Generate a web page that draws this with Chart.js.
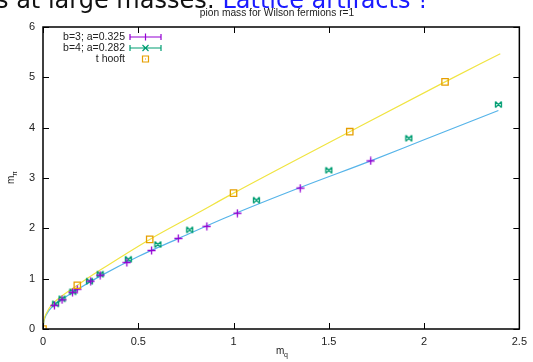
<!DOCTYPE html>
<html>
<head>
  <meta charset="UTF-8">
  <title>pion mass</title>
  <script src="https://cdn.jsdelivr.net/npm/chart.js"></script>
  <style>
    html, body { margin: 0; padding: 0; background: #fff; }
    #wrap { position: relative; width: 533px; height: 362px; }
  </style>
</head>
<body>
  <div id="wrap"><canvas id="pion" width="533" height="362"></canvas></div>

  <script>
    // b=3; a=0.325  (m_q, m_pi)
    const b3X = [0.06, 0.10, 0.155, 0.18, 0.25, 0.30, 0.44, 0.57, 0.71, 0.86, 1.02, 1.35, 1.72];
    const b3Y = [0.47, 0.58, 0.73, 0.79, 0.95, 1.07, 1.32, 1.56, 1.80, 2.04, 2.30, 2.80, 3.34];
    // b=4; a=0.282
    const b4X = [0.066, 0.10, 0.157, 0.244, 0.30, 0.448, 0.603, 0.77, 1.12, 1.50, 1.92, 2.39];
    const b4Y = [0.50, 0.60, 0.74, 0.95, 1.09, 1.385, 1.68, 1.97, 2.56, 3.155, 3.79, 4.46];
    // t hooft points
    const thX = [0, 0.18, 0.56, 1.00, 1.61, 2.11];
    const thY = [0, 0.87, 1.78, 2.70, 3.92, 4.91];
    // t hooft curve (yellow)
    const yellowX = [0, 0.005, 0.02, 0.05, 0.10, 0.18, 0.30, 0.56, 0.80, 1.00, 1.61, 2.11, 2.40];
    const yellowY = [0, 0.17, 0.33, 0.50, 0.66, 0.87, 1.17, 1.78, 2.28, 2.70, 3.92, 4.91, 5.47];
    // fit curve (blue)
    const blueX = [0, 0.005, 0.02, 0.05, 0.10, 0.20, 0.30, 0.50, 0.70, 1.00, 1.35, 1.72, 2.00, 2.39];
    const blueY = [0, 0.15, 0.30, 0.45, 0.59, 0.83, 1.05, 1.44, 1.78, 2.28, 2.81, 3.34, 3.76, 4.34];

    const xTicks = [0, 0.5, 1, 1.5, 2, 2.5];
    const yTicks = [0, 1, 2, 3, 4, 5, 6];

    function pts(xs, ys) {
      return xs.map((x, i) => ({ x: x, y: ys[i] }));
    }

    const FONT = '"Liberation Sans", Arial, sans-serif';

    // small marker images: x with tiny errorbar caps, + with caps
    function marker(color, kind) {
      const c = document.createElement('canvas');
      c.width = 9; c.height = 9;
      const g = c.getContext('2d');
      g.strokeStyle = color;
      g.lineWidth = 1.3;
      g.beginPath();
      if (kind === 'x') {
        g.moveTo(1.5, 1.5); g.lineTo(7.5, 7.5);
        g.moveTo(1.5, 7.5); g.lineTo(7.5, 1.5);
        g.moveTo(1.5, 1.5); g.lineTo(1.5, 7.5);
        g.moveTo(7.5, 1.5); g.lineTo(7.5, 7.5);
      } else {
        g.moveTo(4.5, 0.5); g.lineTo(4.5, 8.5);
        g.moveTo(0.5, 4.5); g.lineTo(8.5, 4.5);
      }
      g.stroke();
      return c;
    }

    // frame, inward ticks, legend, titles and slide heading
    const decor = {
      id: 'decor',
      afterDraw(chart) {
        const ctx = chart.ctx;
        const a = chart.chartArea;
        const xs = chart.scales.x, ys = chart.scales.y;
        ctx.save();

        // frame
        ctx.strokeStyle = '#000';
        ctx.lineWidth = 1.5;
        ctx.strokeRect(a.left, a.top, a.right - a.left, a.bottom - a.top);

        // inward ticks, mirrored
        ctx.lineWidth = 1;
        ctx.beginPath();
        xTicks.forEach(v => {
          const px = Math.round(xs.getPixelForValue(v)) + 0.5;
          ctx.moveTo(px, a.bottom); ctx.lineTo(px, a.bottom - 6);
          ctx.moveTo(px, a.top); ctx.lineTo(px, a.top + 6);
        });
        yTicks.forEach(v => {
          const py = Math.round(ys.getPixelForValue(v)) + 0.5;
          ctx.moveTo(a.left, py); ctx.lineTo(a.left + 6, py);
          ctx.moveTo(a.right, py); ctx.lineTo(a.right - 6, py);
        });
        ctx.stroke();

        // title
        ctx.fillStyle = '#222';
        ctx.font = '10.2px ' + FONT;
        ctx.textAlign = 'center';
        ctx.textBaseline = 'middle';
        ctx.fillText('pion mass for Wilson fermions r=1', 277, 13);

        // x axis label m_q
        ctx.font = '10px ' + FONT;
        ctx.textAlign = 'left';
        ctx.textBaseline = 'alphabetic';
        ctx.fillText('m', 276, 354);
        ctx.font = '7px ' + FONT;
        ctx.fillText('q', 284, 357);

        // y axis label m_pi
        ctx.save();
        ctx.translate(14, 184);
        ctx.rotate(-Math.PI / 2);
        ctx.font = '10px ' + FONT;
        ctx.fillText('m', 0, 0);
        ctx.font = '7px ' + FONT;
        ctx.fillText('\u03c0', 8, 3);
        ctx.restore();

        // legend
        const ds = chart.data.datasets;
        const rows = [
          { label: ds[0].label, color: ds[0].borderColor, kind: 'bar', y: 37 },
          { label: ds[1].label, color: ds[1].borderColor, kind: 'bar', y: 48 },
          { label: ds[2].label, color: ds[2].borderColor, kind: 'sq', y: 59 }
        ];
        ctx.font = '10.5px ' + FONT;
        ctx.textAlign = 'right';
        ctx.textBaseline = 'middle';
        rows.forEach((r, i) => {
          ctx.fillStyle = '#222';
          ctx.fillText(r.label, 125, r.y);
          ctx.strokeStyle = r.color;
          ctx.lineWidth = 1.2;
          ctx.beginPath();
          if (r.kind === 'bar') {
            ctx.moveTo(130, r.y); ctx.lineTo(161, r.y);
            ctx.moveTo(130, r.y - 3); ctx.lineTo(130, r.y + 3);
            ctx.moveTo(161, r.y - 3); ctx.lineTo(161, r.y + 3);
            if (i === 0) {
              ctx.moveTo(145.5, r.y - 3.5); ctx.lineTo(145.5, r.y + 3.5);
            } else {
              ctx.moveTo(142.5, r.y - 3); ctx.lineTo(148.5, r.y + 3);
              ctx.moveTo(142.5, r.y + 3); ctx.lineTo(148.5, r.y - 3);
            }
          } else {
            ctx.rect(142.5, r.y - 3, 6, 6);
            ctx.moveTo(145, r.y); ctx.lineTo(146, r.y);
          }
          ctx.stroke();
        });

        // slide heading, cut by the top edge
        ctx.font = '24px "DejaVu Sans", sans-serif';
        ctx.textAlign = 'left';
        ctx.textBaseline = 'alphabetic';
        const black = 's at large masses: ';
        ctx.fillStyle = '#111';
        ctx.fillText(black, -4, 8);
        const w = ctx.measureText(black).width;
        ctx.fillStyle = '#1a1aff';
        ctx.fillText('Lattice artifacts !', -4 + w, 8);

        ctx.restore();
      }
    };

    const ctx = document.getElementById('pion').getContext('2d');
    new Chart(ctx, {
      type: 'scatter',
      data: {
        datasets: [
          {
            label: 'b=3; a=0.325',
            data: pts(b3X, b3Y),
            borderColor: '#9400d3',
            backgroundColor: '#9400d3',
            pointStyle: marker('#9400d3', '+'),
            order: 1
          },
          {
            label: 'b=4; a=0.282',
            data: pts(b4X, b4Y),
            borderColor: '#009e73',
            backgroundColor: '#009e73',
            pointStyle: marker('#009e73', 'x'),
            order: 1
          },
          {
            label: 't hooft',
            data: pts(thX, thY),
            borderColor: '#e69f00',
            backgroundColor: 'rgba(0,0,0,0)',
            pointStyle: 'rect',
            pointRadius: 4.5,
            borderWidth: 1.3,
            order: 0
          },
          {
            label: 'thooft curve',
            data: pts(yellowX, yellowY),
            showLine: true,
            borderColor: '#f0e442',
            borderWidth: 1.2,
            pointRadius: 0,
            cubicInterpolationMode: 'monotone',
            order: 2
          },
          {
            label: 'fit',
            data: pts(blueX, blueY),
            showLine: true,
            borderColor: '#56b4e9',
            borderWidth: 1.2,
            pointRadius: 0,
            cubicInterpolationMode: 'monotone',
            order: 2
          }
        ]
      },
      options: {
        responsive: false,
        animation: false,
        layout: { padding: { top: 27, right: 8, left: 0, bottom: 0 } },
        plugins: {
          legend: { display: false },
          tooltip: { enabled: false }
        },
        scales: {
          x: {
            type: 'linear',
            min: 0,
            max: 2.5,
            afterFit: s => { s.height = 33; },
            afterBuildTicks: s => { s.ticks = xTicks.map(v => ({ value: v })); },
            grid: { display: false, drawTicks: false },
            border: { display: false },
            ticks: {
              color: '#222',
              font: { family: FONT, size: 11 },
              padding: 6,
              maxRotation: 0,
              callback: v => String(v)
            }
          },
          y: {
            type: 'linear',
            min: 0,
            max: 6,
            afterFit: s => { s.width = 43; },
            afterBuildTicks: s => { s.ticks = yTicks.map(v => ({ value: v })); },
            grid: { display: false, drawTicks: false },
            border: { display: false },
            ticks: {
              color: '#222',
              font: { family: FONT, size: 11 },
              padding: 8,
              callback: v => String(v)
            }
          }
        }
      },
      plugins: [decor]
    });
  </script>
</body>
</html>
